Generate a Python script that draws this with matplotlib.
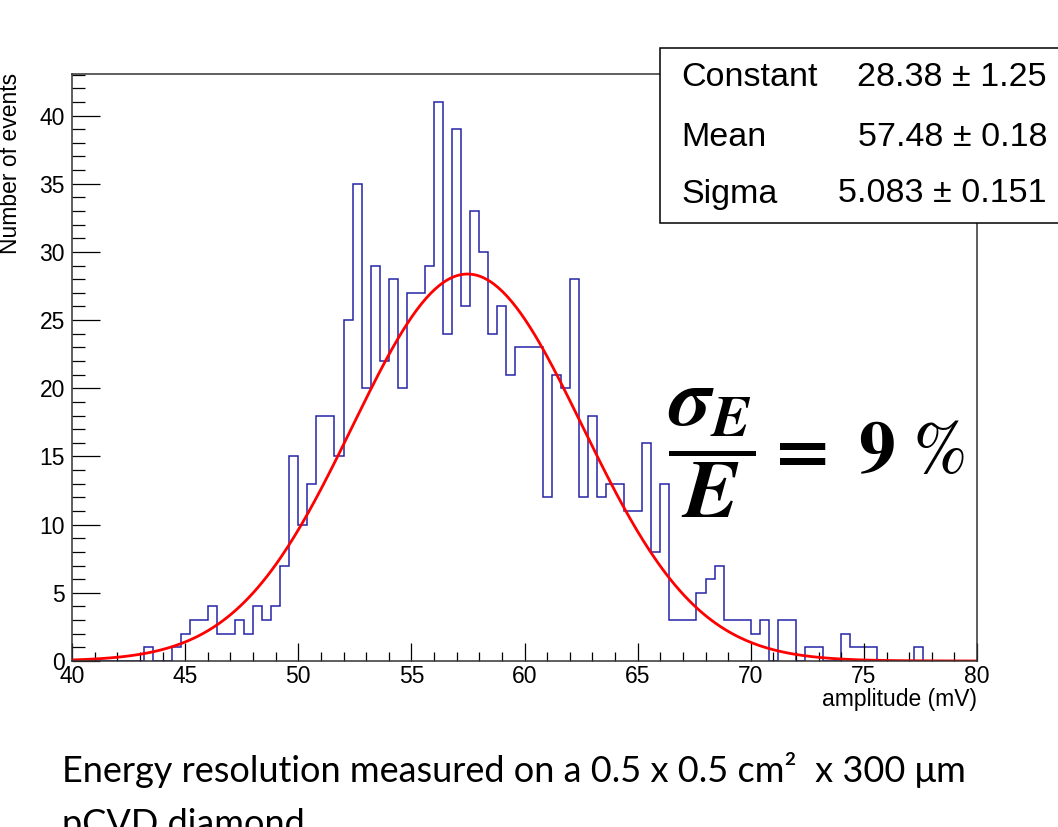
import numpy as np
import matplotlib
matplotlib.use("Agg")
from matplotlib import pyplot as plt
from matplotlib import patches
from matplotlib.ticker import MultipleLocator

# Histogram: 100 bins of 0.4 mV between 40 and 80 mV
xMin = 40
xMax = 80
counts = [0, 0, 0, 0, 0, 0, 0, 0, 1, 0,
          0, 1, 2, 3, 3, 4, 2, 2, 3, 2,
          4, 3, 4, 7, 15, 10, 13, 18, 18, 15,
          25, 35, 20, 29, 22, 28, 20, 27, 27, 29,
          41, 24, 39, 26, 33, 30, 24, 26, 21, 23,
          23, 23, 12, 21, 20, 28, 12, 18, 12, 13,
          13, 11, 11, 16, 8, 13, 3, 3, 3, 5,
          6, 7, 3, 3, 3, 2, 3, 0, 3, 3,
          0, 1, 1, 0, 0, 2, 1, 1, 1, 0,
          0, 0, 0, 1, 0, 0, 0, 0, 0, 0]

# Gaussian fit results
fitNames = ["Constant", "Mean", "Sigma"]
fitValues = ["28.38", "57.48", "5.083"]
fitErrors = ["1.25", "0.18", "0.151"]
constant = 28.38
mean = 57.48
sigma = 5.083

caption1 = "Energy resolution measured on a 0.5 x 0.5 cm\u00b2  x 300 \u03bcm"
caption2 = "pCVD diamond"

W, H = 1058, 827
plt.rcParams['font.family'] = ['Liberation Sans', 'DejaVu Sans']
plt.rcParams['mathtext.fontset'] = 'stix'

fig = plt.figure(figsize=(W / 100, H / 100), dpi=100)
ax = fig.add_axes([72 / W, 1 - 661 / H, (977 - 72) / W, (661 - 74) / H])

# Draw histogram and fit
edges = np.linspace(xMin, xMax, len(counts) + 1)
ax.stairs(counts, edges, color="#2424a8", linewidth=1.1)

xFit = np.linspace(xMin, xMax, 400)
yFit = constant * np.exp(-0.5 * ((xFit - mean) / sigma) ** 2)
ax.plot(xFit, yFit, color="red", linewidth=2.0)

ax.set_xlim(xMin, xMax)
ax.set_ylim(0, 1.05 * max(counts))

# ROOT style axis and ticks
ax.xaxis.set_major_locator(MultipleLocator(5))
ax.xaxis.set_minor_locator(MultipleLocator(1))
ax.yaxis.set_major_locator(MultipleLocator(5))
ax.yaxis.set_minor_locator(MultipleLocator(1))
ax.tick_params(axis='x', which='major', direction='in', length=13, width=0.9, labelsize=16.5, pad=3)
ax.tick_params(axis='x', which='minor', direction='in', length=6.5, width=0.9)
ax.tick_params(axis='y', which='major', direction='in', length=20, width=0.9, labelsize=16.5, pad=5)
ax.tick_params(axis='y', which='minor', direction='in', length=9.5, width=0.9)
for spine in ax.spines.values():
    spine.set_linewidth(1.1)
    spine.set_color("#333333")

ax.set_xlabel("amplitude (mV)", loc='right', fontsize=16.5, labelpad=0)
fig.text(-1 / W, 1 - 73 / H, "Number of events", rotation=90, ha='left', va='top', fontsize=16.5)

# Stats box with fit parameters
box = patches.Rectangle((660 / W, 1 - 223 / H), 420 / W, 175 / H, transform=fig.transFigure,
                        facecolor="white", edgecolor="black", linewidth=1.1, zorder=5)
fig.add_artist(box)
rowsY = [78, 137, 194]
for i in range(3):
    fig.text(681 / W, 1 - rowsY[i] / H, fitNames[i], ha='left', va='center', fontsize=24.5, zorder=6)
    fig.text(1047 / W, 1 - rowsY[i] / H, fitValues[i] + " \u00b1 " + fitErrors[i],
             ha='right', va='center', fontsize=24.5, zorder=6)

# Energy resolution formula
fig.text(668 / W, 1 - 453 / H,
         r'$\dfrac{\boldsymbol{\sigma}_{\boldsymbol{E}}}{\boldsymbol{E}}$',
         ha='left', va='center', fontsize=60)
fig.text(764 / W, 1 - 473 / H, r'$\mathbf{=}\ \mathbf{9}\ \mathrm{\%}$',
         ha='left', va='baseline', fontsize=53)

# Caption below the plot, stretched to the reference width
t1 = fig.text(62 / W, 1 - 782 / H, caption1, ha='left', va='baseline',
              fontsize=24, family=['Lato', 'DejaVu Sans'], color='black')
fig.canvas.draw()
bb = t1.get_window_extent()
fs = 24 * 906 / bb.width
t1.set_fontsize(fs)
fig.text(62 / W, 1 - 835 / H, caption2, ha='left', va='baseline',
         fontsize=fs, family=['Lato', 'DejaVu Sans'], color='black')

fig.savefig("out.png", dpi=100)
